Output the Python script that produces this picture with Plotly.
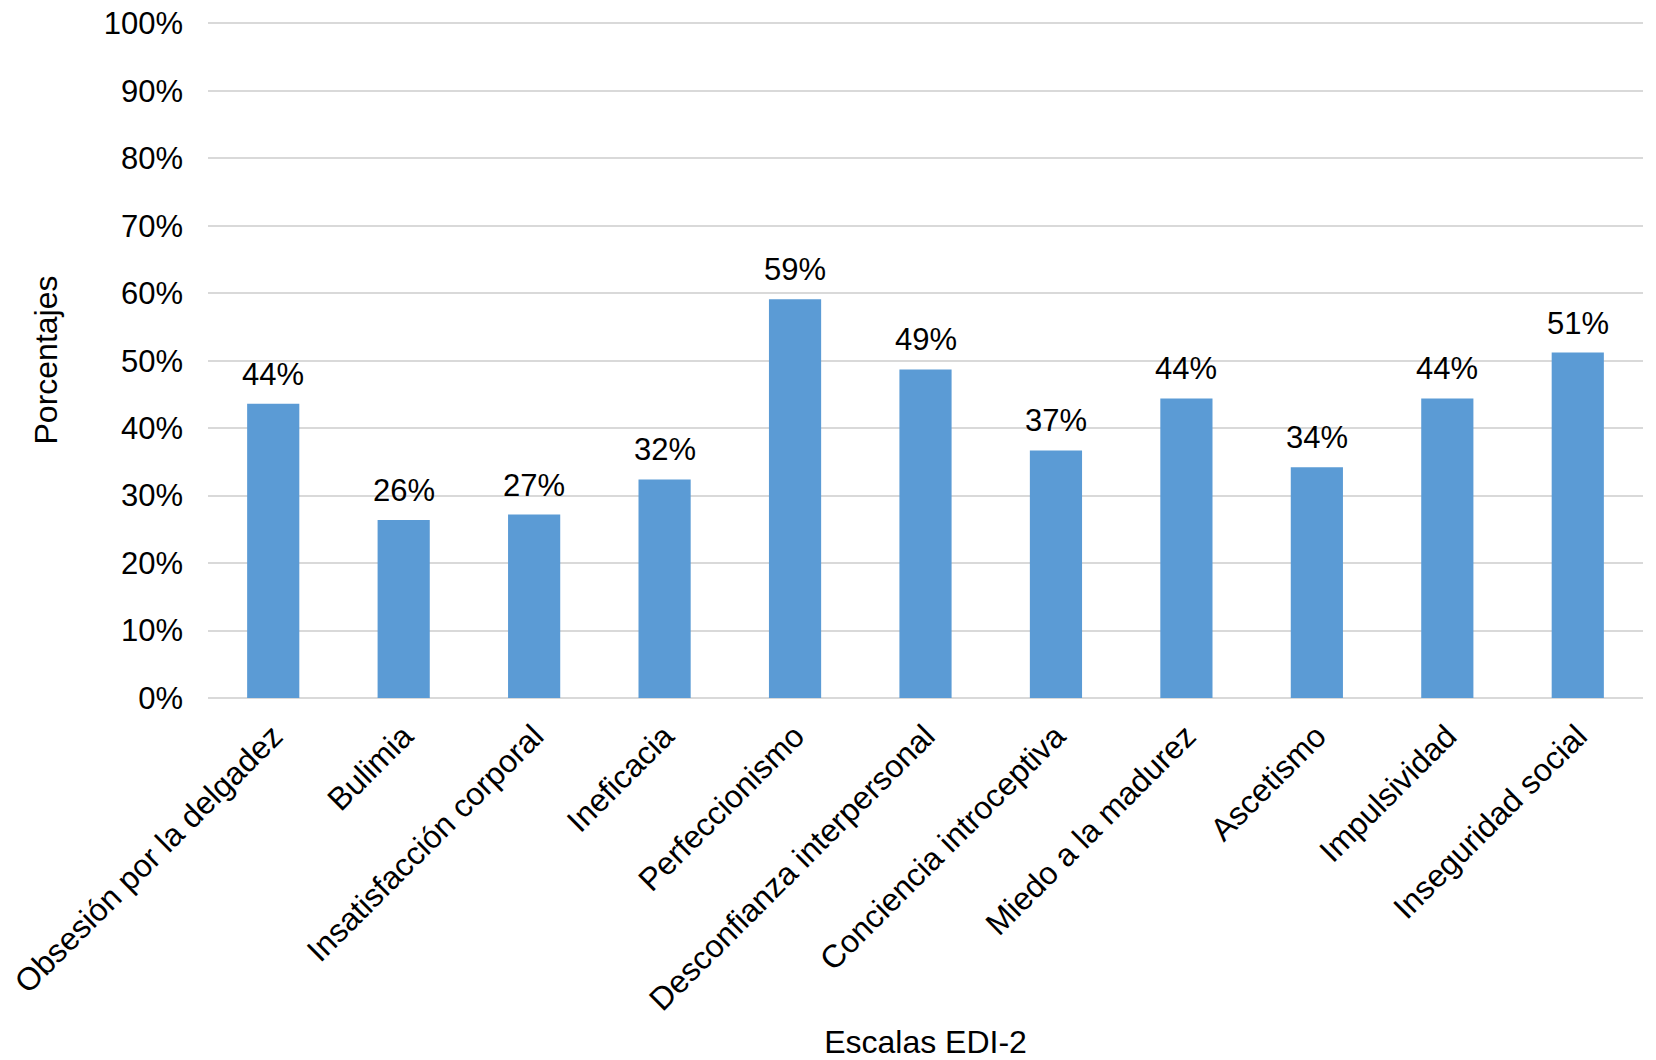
import plotly.graph_objects as go

# EDI-2 scales and share of participants above cutoff
categories = [
    "Obsesión por la delgadez",
    "Bulimia",
    "Insatisfacción corporal",
    "Ineficacia",
    "Perfeccionismo",
    "Desconfianza interpersonal",
    "Conciencia introceptiva",
    "Miedo a la madurez",
    "Ascetismo",
    "Impulsividad",
    "Inseguridad social",
]
values = [0.436, 0.264, 0.272, 0.324, 0.591, 0.487, 0.367, 0.444, 0.342, 0.444, 0.512]

y_ticks = [i / 10 for i in range(11)]
y_tick_labels = [f"{i * 10}%" for i in range(11)]

FONT = "Liberation Sans, Arial, sans-serif"
BAR_COLOR = "#5b9bd5"
GRID_COLOR = "#d9d9d9"

fig = go.Figure(
    go.Bar(
        x=categories,
        y=values,
        marker=dict(color=BAR_COLOR, line=dict(width=0)),
        width=0.4,
        hoverinfo="x+y",
    )
)

# value labels above each bar
for cat, v in zip(categories, values):
    fig.add_annotation(
        x=cat, y=v, text=f"{v:.0%}", showarrow=False,
        yanchor="bottom", yshift=10,
        font=dict(family=FONT, size=31, color="#000000"),
    )

fig.update_layout(
    width=1656,
    height=1060,
    margin=dict(l=208, r=13, t=22, b=362),
    paper_bgcolor="white",
    plot_bgcolor="white",
    showlegend=False,
    font=dict(family=FONT, size=31, color="#000000"),
    xaxis=dict(
        tickangle=-45,
        tickfont=dict(family=FONT, size=32, color="#000000"),
        showline=False,
        showgrid=False,
        ticks="",
        ticklabelstandoff=12,
        automargin=False,
        title=dict(text="Escalas EDI-2", font=dict(family=FONT, size=32), standoff=38),
    ),
    yaxis=dict(
        range=[0, 1.002],
        tickvals=y_ticks,
        ticktext=y_tick_labels,
        tickfont=dict(family=FONT, size=31, color="#000000"),
        showgrid=True,
        gridcolor=GRID_COLOR,
        gridwidth=2,
        zeroline=True,
        zerolinecolor=GRID_COLOR,
        zerolinewidth=2,
        showline=False,
        ticks="",
        ticklabelstandoff=24,
        automargin=False,
        title=dict(text="Porcentajes", font=dict(family=FONT, size=32), standoff=36),
    ),
)

fig.write_html("out.html")
